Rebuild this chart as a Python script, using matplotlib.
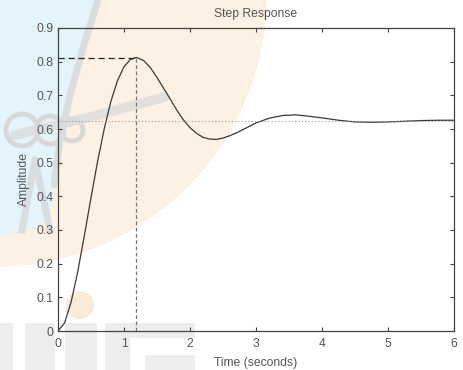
import numpy as np
import matplotlib
matplotlib.use('Agg')
import matplotlib.pyplot as plt
from matplotlib.patches import Circle, Rectangle, Polygon

# step response
t = [0.0, 0.1, 0.2, 0.3, 0.4, 0.5, 0.6, 0.7, 0.8, 0.9, 1.0, 1.1, 1.18, 1.2,
     1.3, 1.4, 1.5, 1.6, 1.7, 1.8, 1.9, 2.0, 2.1, 2.2, 2.3, 2.4, 2.5, 2.6,
     2.7, 2.8, 2.9, 3.0, 3.2, 3.4, 3.6, 3.8, 4.0, 4.25, 4.5, 4.75, 5.0,
     5.25, 5.5, 5.75, 6.0]
amp = [0.0, 0.024, 0.087, 0.177, 0.284, 0.396, 0.504, 0.600, 0.681, 0.743,
       0.785, 0.807, 0.812, 0.812, 0.803, 0.782, 0.753, 0.721, 0.689, 0.656,
       0.627, 0.604, 0.587, 0.575, 0.570, 0.569, 0.573, 0.580, 0.588, 0.598,
       0.608, 0.618, 0.632, 0.640, 0.642, 0.638, 0.633, 0.626, 0.621, 0.620,
       0.621, 0.623, 0.625, 0.626, 0.626]

peak_time = 1.18
peak_amp = 0.812
final_value = 0.625

x_ticks = [0, 1, 2, 3, 4, 5, 6]
y_ticks = [0, 0.1, 0.2, 0.3, 0.4, 0.5, 0.6, 0.7, 0.8, 0.9]
y_ticklabels = ['0', '0.1', '0.2', '0.3', '0.4', '0.5', '0.6', '0.7', '0.8', '0.9']

plt.rcParams['font.family'] = ['Liberation Sans', 'DejaVu Sans']
TXT = '#555555'
FS = 8.7

fig = plt.figure(figsize=(4.63, 3.70), dpi=100)
fig.patch.set_facecolor('white')

# watermark behind the chart (pixel coords)
bg = fig.add_axes([0, 0, 1, 1], zorder=0)
bg.set_xlim(0, 463)
bg.set_ylim(370, 0)
bg.axis('off')
bg.add_patch(Circle((-5, -5), 272, color='#fdf1e3', lw=0))
blue_edge = [(0, 0), (100, 0), (82, 55), (66, 110), (58, 160), (52, 205),
             (38, 228), (0, 236)]
bg.add_patch(Polygon(blue_edge, closed=True, color='#e3f4fb', lw=0))
bg.add_patch(Circle((80, 305), 14, color='#fbead8', lw=0))
# grey swoosh shapes
bg.plot([98, 84, 70, 60, 54], [0, 45, 95, 140, 185], color='#d9dde0', lw=5,
        solid_capstyle='round')
bg.plot([15, 90, 165], [135, 117, 97], color='#dcdcdc', lw=7,
        solid_capstyle='round', alpha=0.8)
for cx, r in [(22, 16), (50, 14), (72, 11)]:
    bg.add_patch(Circle((cx, 130), r, fill=False, ec='#d8d8d8', lw=3.5))
bg.plot([22, 35, 50], [230, 160, 230], color='#d8dde0', lw=5)
# grey block letters at the bottom
for x0, w, y0, h in [(0, 13, 323, 47), (25, 30, 323, 47), (65, 32, 323, 47),
                     (105, 25, 323, 47), (130, 65, 323, 15),
                     (145, 50, 355, 15)]:
    bg.add_patch(Rectangle((x0, y0), w, h, color='#ededed', lw=0))

ax = fig.add_axes([58 / 463, 39 / 370, 396 / 463, 303 / 370], zorder=1)
ax.patch.set_alpha(0)

ax.plot(t, amp, color='#3a3a3a', lw=0.9)
ax.axhline(final_value, color='#999999', lw=0.8, ls=(0, (1, 2)))
ax.plot([0, peak_time], [peak_amp, peak_amp], color='#222222', lw=0.9,
        ls=(0, (5, 3)))
ax.plot([peak_time, peak_time], [0, peak_amp], color='#777777', lw=0.9,
        ls=(0, (3, 2)))

ax.set_xlim(0, 6)
ax.set_ylim(0, 0.9)
ax.set_xticks(x_ticks)
ax.set_yticks(y_ticks)
ax.set_yticklabels(y_ticklabels)
ax.tick_params(direction='in', length=3, width=0.8, colors='#444444',
               labelcolor=TXT, labelsize=FS, top=True, right=True)
ax.tick_params(axis='x', pad=5)
ax.tick_params(axis='y', pad=3)
for s in ax.spines.values():
    s.set_color('#444444')
    s.set_linewidth(0.9)

ax.set_title('Step Response', fontsize=FS, color=TXT, pad=8)
ax.set_xlabel('Time (seconds)', fontsize=FS, color=TXT, labelpad=5)
ax.set_ylabel('Amplitude', fontsize=FS, color=TXT, labelpad=5)

fig.savefig('out.png', dpi=100)
